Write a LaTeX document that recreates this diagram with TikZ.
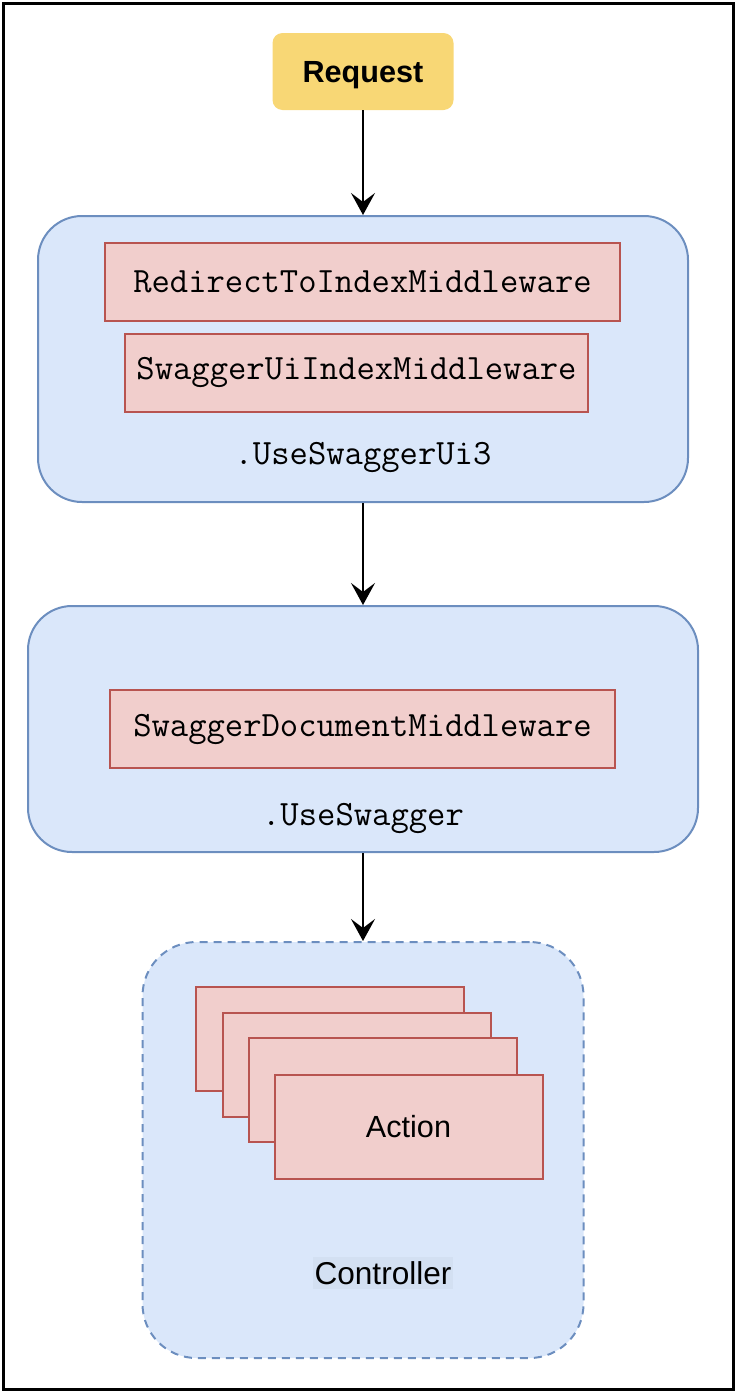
\documentclass[tikz,border=0pt]{standalone}
\usepackage{fontspec}
\setmainfont{Liberation Sans}
\usepackage{xcolor}
\usetikzlibrary{arrows.meta}

\definecolor{reqfill}{HTML}{F8D775}
\definecolor{bluefill}{HTML}{DAE7FA}
\definecolor{blueline}{HTML}{6C8EBF}
\definecolor{redfill}{HTML}{F1CECC}
\definecolor{redline}{HTML}{B85450}
\definecolor{ctrlbg}{HTML}{D3E0F2}

\begin{document}
\begin{tikzpicture}[x=0.5pt, y=-0.5pt,
    mono/.style={font=\fontsize{17.8}{20}\selectfont\ttfamily},
    group/.style={draw=blueline, line width=1pt, fill=bluefill, rounded corners=22pt},
    mw/.style={draw=redline, line width=1pt, fill=redfill, mono, minimum height=39pt},
    flow/.style={-{Stealth[length=11pt, width=12pt, inset=4.5pt]}, line width=1pt}]
        \useasboundingbox (0,0) rectangle (736,1392);
        \draw[line width=1.5pt] (3,3) rectangle (733,1389);

        % Request
        \node[fill=reqfill, rounded corners=5pt, minimum width=90.5pt, minimum height=38.5pt, text depth=0pt,
              font=\fontsize{15.3}{18}\selectfont\bfseries] (req) at (363,71.5) {Request};

        % .UseSwaggerUi3
        \node[group, minimum width=325pt, minimum height=143pt] (ui3) at (363,359) {};
        \node[mw, minimum width=257.5pt] (redirect) at (362.5,282) {RedirectToIndexMiddleware};
        \node[mw, minimum width=231.5pt] (uiindex) at (356.5,372.5) {SwaggerUiIndexMiddleware};
        \node[mono] (ui3lbl) at (363,457) {.UseSwaggerUi3};

        % .UseSwagger
        \node[group, minimum width=335pt, minimum height=123pt] (swag) at (363,729) {};
        \node[mw, minimum width=252.5pt] (docmw) at (362.5,729) {SwaggerDocumentMiddleware};
        \node[mono] (swaglbl) at (363,818) {.UseSwagger};

        % Controller
        \node[group, dash pattern=on 4pt off 3pt, rounded corners=27pt,
              minimum width=220.5pt, minimum height=208pt] (ctrl) at (363,1150) {};
        \foreach \i/\cx/\cy/\txt in {1/330/1039/, 2/356.5/1065/, 3/382.5/1090/, 4/408.5/1127/Action}
            \node[draw=redline, line width=1pt, fill=redfill, minimum width=134pt, minimum height=52pt,
                  font=\fontsize{15.3}{18}\selectfont] (act\i) at (\cx,\cy) {\txt};
        \node[fill=ctrlbg, inner xsep=1pt, inner ysep=2pt, font=\fontsize{15.8}{18}\selectfont] (ctrllbl) at (383,1273) {Controller};

        % Arrows
        \draw[flow] (req) -- (ui3);
        \draw[flow] (ui3) -- (swag);
        \draw[flow] (swag) -- (ctrl);
    \end{tikzpicture}
\end{document}
